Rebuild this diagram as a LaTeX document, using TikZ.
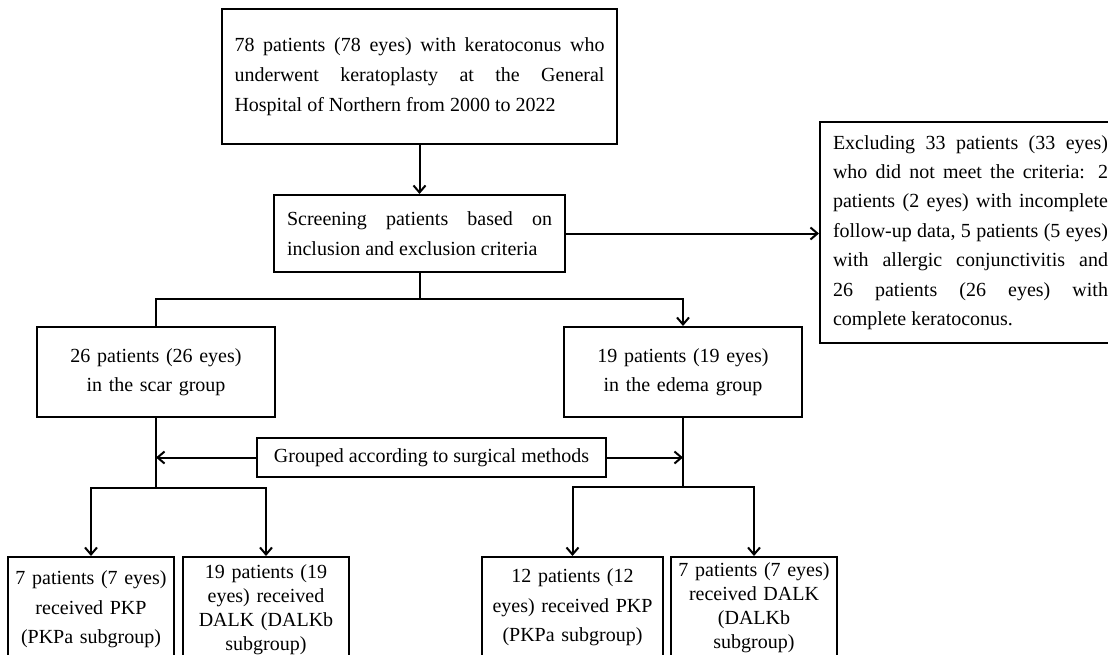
\documentclass[tikz,border=0pt]{standalone}
\usepackage{fontspec}
\setmainfont{Liberation Serif}
\usepackage{tikz}
\usetikzlibrary{arrows.meta}
\tolerance=10000 \hbadness=10000 \hyphenpenalty=10000 \exhyphenpenalty=10000

\begin{document}
\begin{tikzpicture}[x=1pt,y=-1pt,line width=2pt,font=\fontsize{20}{29.5}\selectfont,
  >={Straight Barb[length=7pt,width=12pt]},
  box/.style={draw,rectangle,inner ysep=0pt},
  jbox/.style={box,align=justify,font=\fontsize{20}{30}\selectfont},
  cbox/.style={box,align=center}]
%\draw (0,0) grid (1108,654);
\useasboundingbox (0,0) rectangle (1108,654);

\node [jbox,text width=370pt,inner xsep=12.5pt,minimum height=135pt] (top) at (419.5,76.5) {78 patients (78 eyes) with keratoconus who\linebreak underwent keratoplasty at the General\linebreak Hospital of Northern from 2000 to 2022};
\node [jbox,text width=265pt,inner xsep=13pt,minimum height=77pt] (screen) at (419.5,233.5) {Screening patients based on\linebreak inclusion and exclusion criteria};
\node [jbox,anchor=west,text width=275pt,inner xsep=13pt,minimum height=221pt,font=\fontsize{20}{29.4}\selectfont] (excl) at (819,232.5) {Excluding 33 patients (33 eyes)\linebreak who did not meet the criteria: 2\linebreak patients (2 eyes) with incomplete\linebreak follow-up data, 5 patients (5 eyes)\linebreak with allergic conjunctivitis and\linebreak 26 patients (26 eyes) with\linebreak complete keratoconus.};

\draw [->] (top) -- (screen); \draw [->] (screen) -- (screen -| excl.west);

\node [cbox,text width=222pt,inner xsep=8pt,minimum height=90pt] (scar) at (156,372) {26 patients (26 eyes)\\in the scar group};
\node [cbox,text width=222pt,inner xsep=8pt,minimum height=90pt] (edema) at (683,372) {19 patients (19 eyes)\\in the edema group};

\coordinate (split) at (419.5,299);
\draw (screen) -- (split) -| (scar); \draw [->] (split) -| (edema);

\node [box,minimum width=349pt,minimum height=39pt] (grp) at (431.5,457.5) {Grouped according to surgical methods};

\node [cbox,anchor=north,text width=162pt,inner xsep=2pt,inner ysep=14pt] (pkpa) at (91,556) {7 patients (7 eyes)\\received PKP\\(PKPa subgroup)};
\node [cbox,anchor=north,text width=162pt,inner xsep=2pt,inner ysep=8pt,font=\fontsize{20}{24}\selectfont] (dalkb) at (266,556) {19 patients (19\\eyes) received\\DALK (DALKb\\subgroup)};
\node [cbox,anchor=north,text width=177pt,inner xsep=2pt,inner ysep=12pt] (pkpc) at (572.5,556) {12 patients (12\\eyes) received PKP\\(PKPa subgroup)};
\node [cbox,anchor=north,text width=162pt,inner xsep=2pt,inner ysep=6pt,font=\fontsize{20}{24}\selectfont] (dalkd) at (754,556) {7 patients (7 eyes)\\received DALK\\(DALKb\\subgroup)};

\coordinate (lsplit) at (156,488); \coordinate (rsplit) at (683,487);
\draw (scar) -- (lsplit); \draw [->] (lsplit) -| (pkpa); \draw [->] (lsplit) -| (dalkb);
\draw (edema) -- (rsplit); \draw [->] (rsplit) -| (pkpc); \draw [->] (rsplit) -| (dalkd);
\draw [->] (grp) -- (grp -| scar); \draw [->] (grp) -- (grp -| edema);
\end{tikzpicture}
\end{document}
